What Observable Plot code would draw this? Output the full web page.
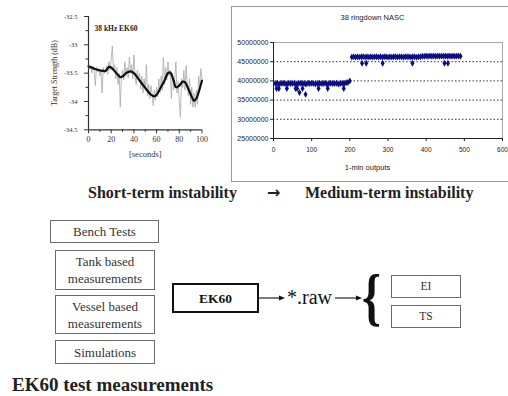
<!DOCTYPE html>
<html><head><meta charset="utf-8">
<script src="https://cdn.jsdelivr.net/npm/d3@7"></script>
<script src="https://cdn.jsdelivr.net/npm/@observablehq/plot@0.6"></script>
<style>
html,body{margin:0;padding:0;background:#fff;}
#page{position:relative;width:508px;height:396px;overflow:hidden;background:#fff;}
.t{position:absolute;white-space:nowrap;font-family:"Liberation Serif","Times New Roman",serif;line-height:1;}
.box{position:absolute;box-sizing:border-box;border:1.5px solid #6a6a6a;display:flex;align-items:center;justify-content:center;text-align:center;font-family:"Liberation Serif","Times New Roman",serif;font-size:13px;line-height:17px;color:#333;}
</style></head><body><div id="page"></div>
<script>
// ---------- Left chart: 38 kHz EK60 target strength ----------
const tsTitle = "38 kHz EK60";
const tsYLabel = "Target Strength (dB)";
const tsXLabel = "[seconds]";
const tsYTicks = [-32.5, -33, -33.5, -34, -34.5];
const tsYMinor = [-32.75, -33.25, -33.75, -34.25];
const tsXTicks = [0, 20, 40, 60, 80, 100];
const tsXMinor = [10, 30, 50, 70, 90];
// raw 1-second samples (dB), t = 0..100
const tsRaw = [
 -33.35,-33.42,-33.40,-33.50,-33.38,-33.45,-33.72,-33.40,-33.48,-33.43,
 -33.55,-33.45,-33.85,-33.40,-33.50,-33.44,-33.38,-33.52,-33.30,-33.45,
 -33.25,-33.02,-33.45,-33.35,-33.60,-33.40,-33.70,-33.50,-34.10,-33.55,
 -33.45,-33.62,-33.30,-33.55,-33.40,-33.58,-33.22,-33.50,-33.35,-33.60,
 -33.18,-33.55,-33.70,-33.45,-33.62,-33.50,-33.78,-33.55,-33.85,-33.60,
 -33.80,-33.35,-33.90,-33.70,-33.95,-33.72,-33.85,-34.07,-33.80,-33.98,
 -33.75,-33.92,-33.60,-33.85,-33.55,-33.80,-33.22,-33.70,-33.40,-33.62,
 -33.30,-33.55,-33.45,-33.95,-33.50,-33.80,-33.60,-33.30,-33.85,-33.65,
 -34.00,-34.28,-33.60,-33.75,-33.45,-33.80,-33.37,-33.70,-33.90,-33.60,
 -34.05,-33.75,-34.10,-33.85,-34.10,-33.80,-34.05,-33.55,-33.75,-33.42,
 -33.60
];
// smoothed curve
const tsSmoothT = [0,5,10,15,18,20,25,28,30,33,37,40,45,50,55,58,60,63,67,70,72,75,77,80,83,85,88,91,93,95,97,100];
const tsSmoothV = [-33.38,-33.42,-33.45,-33.46,-33.39,-33.40,-33.51,-33.57,-33.56,-33.50,-33.47,-33.50,-33.63,-33.76,-33.88,-33.91,-33.88,-33.78,-33.63,-33.50,-33.49,-33.63,-33.75,-33.72,-33.65,-33.66,-33.78,-33.92,-33.99,-33.95,-33.84,-33.63];

// ---------- Right chart: 38 ringdown NASC ----------
const nascTitle = "38 ringdown NASC";
const nascXLabel = "1-min outputs";
const nascYTicks = [25, 30, 35, 40, 45, 50];      // millions
const nascGrid = [30, 35, 40, 45];
const nascXTicks = [0, 100, 200, 300, 400, 500, 600];
// first period: main band, every 5 outputs from 5 to 200 (millions)
const band1 = [39.3,39.4,39.2,39.3,39.4,39.3,39.2,39.4,39.3,39.3,
               39.4,39.2,39.3,39.4,39.3,39.3,39.2,39.4,39.3,39.4,
               39.3,39.2,39.3,39.4,39.3,39.3,39.4,39.2,39.3,39.4,
               39.3,39.3,39.4,39.2,39.3,39.4,39.3,39.5,39.6,40.0];
const low1X = [8,14,35,58,62,68,76,84,118,142,184];
const low1Y = [38.0,38.0,38.0,38.0,38.0,37.0,38.0,36.5,38.0,38.0,38.0];
// second period: every 5 outputs from 205 to 490 (millions)
const band2 = [46.2,46.3,46.2,46.3,46.2,46.3,46.3,46.2,46.3,46.2,
               46.3,46.2,46.3,46.3,46.2,46.3,46.2,46.3,46.3,46.2,
               46.3,46.2,46.3,46.3,46.2,46.3,46.3,46.2,46.3,46.3,
               46.3,46.2,46.3,46.3,46.2,46.3,46.3,46.4,46.4,46.5,
               46.4,46.5,46.4,46.5,46.4,46.5,46.4,46.5,46.4,46.5,
               46.4,46.5,46.4,46.5,46.4,46.5,46.5,46.4];
const low2X = [232,243,286,364,448,457];
const low2Y = [44.6,44.6,44.6,44.6,44.6,44.6];

// ---------- Diagram text ----------
const headLeft = "Short-term instability";
const headArrow = "\u2192";
const headRight = "Medium-term instability";
const inputs = ["Bench Tests", "Tank based<br>measurements", "Vessel based<br>measurements", "Simulations"];
const device = "EK60";
const rawFile = "*.raw";
const outputs = ["EI", "TS"];
const footer = "EK60 test measurements";

const page = document.getElementById("page");

// ---- left chart
const tsData = tsRaw.map((v, i) => ({t: i, v}));
const tsSmooth = tsSmoothT.map((t, i) => ({t, v: tsSmoothV[i]}));
const serif = "'Liberation Serif','Times New Roman',serif";
const left = Plot.plot({
  width: 230, height: 170,
  marginLeft: 88, marginRight: 28.5, marginTop: 16, marginBottom: 40.7,
  x: {domain: [0, 100]},
  y: {domain: [-34.5, -32.5]},
  style: {fontFamily: serif, fontSize: "7px", color: "#333", background: "transparent"},
  marks: [
    Plot.line(tsData, {x: "t", y: "v", stroke: "#a8a8a8", strokeWidth: 0.8}),
    Plot.line(tsSmooth, {x: "t", y: "v", stroke: "#111", strokeWidth: 2.2, curve: "catmull-rom"}),
    Plot.ruleX([0], {stroke: "#333", strokeWidth: 1.2}),
    Plot.ruleY([-34.5], {stroke: "#333", strokeWidth: 1.2}),
    Plot.axisY(tsYTicks, {tickSize: 4, tickPadding: 7, tickFormat: d => String(d), label: null, stroke: "#333", fontSize: 6.5}),
    Plot.axisY(tsYMinor, {tickSize: 2.5, tickFormat: () => "", label: tsYLabel, labelAnchor: "center", labelOffset: 37, labelArrow: "none", stroke: "#333", fontSize: 8}),
    Plot.axisX(tsXTicks, {tickSize: 4, tickPadding: 3, label: null, stroke: "#333", fontSize: 8}),
    Plot.axisX(tsXMinor, {tickSize: 2.5, tickFormat: () => "", label: null, stroke: "#333"}),
    Plot.text([tsTitle], {frameAnchor: "top-left", dx: 6, dy: 12, textAnchor: "start", lineAnchor: "middle", fontWeight: "bold", fontSize: 7.5, fill: "#222"}),
    Plot.text([tsXLabel], {frameAnchor: "bottom", dy: 24.7, lineAnchor: "middle", fontSize: 8.5, fill: "#333"})
  ]
});
left.style.position = "absolute"; left.style.left = "0px"; left.style.top = "0px";
page.appendChild(left);

// ---- right chart
const band1Data = band1.map((v, i) => ({x: (i + 1) * 5, y: v}));
const band2Data = band2.map((v, i) => ({x: 205 + i * 5, y: v}));
const low1 = low1X.map((x, i) => ({x, y: low1Y[i]}));
const low2 = low2X.map((x, i) => ({x, y: low2Y[i]}));
const nascPts = [...band1Data, ...low1, ...band2Data, ...low2];
const sans = "'Liberation Sans',Arial,sans-serif";
const right = Plot.plot({
  width: 290, height: 185,
  marginLeft: 48, marginRight: 13, marginTop: 42, marginBottom: 47,
  x: {domain: [0, 600]},
  y: {domain: [25, 50]},
  style: {fontFamily: sans, fontSize: "7px", color: "#222", background: "transparent", overflow: "visible"},
  marks: [
    Plot.frame({stroke: "#a8a8a8", strokeWidth: 1}),
    Plot.ruleY(nascGrid, {stroke: "#333", strokeWidth: 1, strokeDasharray: "1.5,2"}),
    Plot.ruleX([0], {stroke: "#222"}),
    Plot.ruleY([25], {stroke: "#222"}),
    Plot.axisY(nascYTicks, {tickSize: 3, tickPadding: 2, tickFormat: d => String(d * 1000000), label: null, stroke: "#222", fontSize: 7}),
    Plot.axisX(nascXTicks, {tickSize: 3, tickPadding: 6, label: null, stroke: "#222", fontSize: 6.5}),
    Plot.dot(nascPts, {x: "x", y: "y", symbol: "diamond", r: 2.1, fill: "#0c0c86", stroke: "none"}),
    Plot.text([nascTitle], {frameAnchor: "top", dx: -15.5, dy: -25, lineAnchor: "middle", fontSize: 7.5, fill: "#222"}),
    Plot.text([nascXLabel], {frameAnchor: "bottom", dx: -20.5, dy: 29, lineAnchor: "middle", fontSize: 7.5, fill: "#222"})
  ]
});
right.style.position = "absolute"; right.style.left = "225px"; right.style.top = "0px";
page.appendChild(right);
const chartFrame = document.createElement("div");
Object.assign(chartFrame.style, {position: "absolute", left: "231px", top: "6px", width: "300px", height: "176px", border: "1.5px solid #9a9a9a", boxSizing: "border-box"});
page.appendChild(chartFrame);

// ---- diagram
function addText(txt, x, y, css) {
  const s = document.createElement("div");
  s.className = "t"; s.innerHTML = txt;
  s.style.left = x + "px"; s.style.top = y + "px";
  Object.assign(s.style, css || {});
  page.appendChild(s); return s;
}
addText(headLeft, 88, 185, {fontSize: "16px", fontWeight: "bold", color: "#222"});
addText(headArrow, 267, 185, {fontSize: "16px", fontWeight: "bold", color: "#222", fontFamily: "'DejaVu Sans',sans-serif"});
addText(headRight, 305, 185, {fontSize: "16px", fontWeight: "bold", color: "#222"});

const boxGeom = [[50, 220, 109, 23], [55, 250, 100, 40], [55, 295, 100, 39], [55, 340, 100, 24]];
inputs.forEach((txt, i) => {
  const b = document.createElement("div");
  b.className = "box"; b.innerHTML = txt;
  const [x, y, w, h] = boxGeom[i];
  Object.assign(b.style, {left: x + "px", top: y + "px", width: w + "px", height: h + "px"});
  page.appendChild(b);
});
const ek = document.createElement("div");
ek.className = "box"; ek.textContent = device;
Object.assign(ek.style, {left: "172px", top: "283px", width: "87px", height: "30px", border: "2.2px solid #111", fontWeight: "bold", fontSize: "13.5px", color: "#111"});
page.appendChild(ek);
const outGeom = [[391, 275, 70, 23], [391, 305, 70, 23]];
outputs.forEach((txt, i) => {
  const b = document.createElement("div");
  b.className = "box"; b.textContent = txt;
  const [x, y, w, h] = outGeom[i];
  Object.assign(b.style, {left: x + "px", top: y + "px", width: w + "px", height: h + "px", fontSize: "11.5px"});
  page.appendChild(b);
});
addText(rawFile, 287, 287, {fontSize: "20px", color: "#111"});
addText("{", 362, 265, {fontSize: "64px", fontWeight: "bold", color: "#111", transform: "scaleX(0.75)", transformOrigin: "left top"});
addText(footer, 12, 375, {fontSize: "19px", fontWeight: "bold", color: "#222"});

const NS = "http://www.w3.org/2000/svg";
const arr = document.createElementNS(NS, "svg");
arr.setAttribute("width", 508); arr.setAttribute("height", 396);
arr.style.position = "absolute"; arr.style.left = "0"; arr.style.top = "0";
[[259, 285], [335, 362]].forEach(([a, b]) => {
  const l = document.createElementNS(NS, "line");
  l.setAttribute("x1", a); l.setAttribute("x2", b - 5); l.setAttribute("y1", 298); l.setAttribute("y2", 298);
  l.setAttribute("stroke", "#111"); l.setAttribute("stroke-width", 1.1);
  arr.appendChild(l);
  const p = document.createElementNS(NS, "polygon");
  p.setAttribute("points", `${b},298 ${b - 6},295.5 ${b - 6},300.5`);
  p.setAttribute("fill", "#111");
  arr.appendChild(p);
});
page.appendChild(arr);
</script></body></html>
